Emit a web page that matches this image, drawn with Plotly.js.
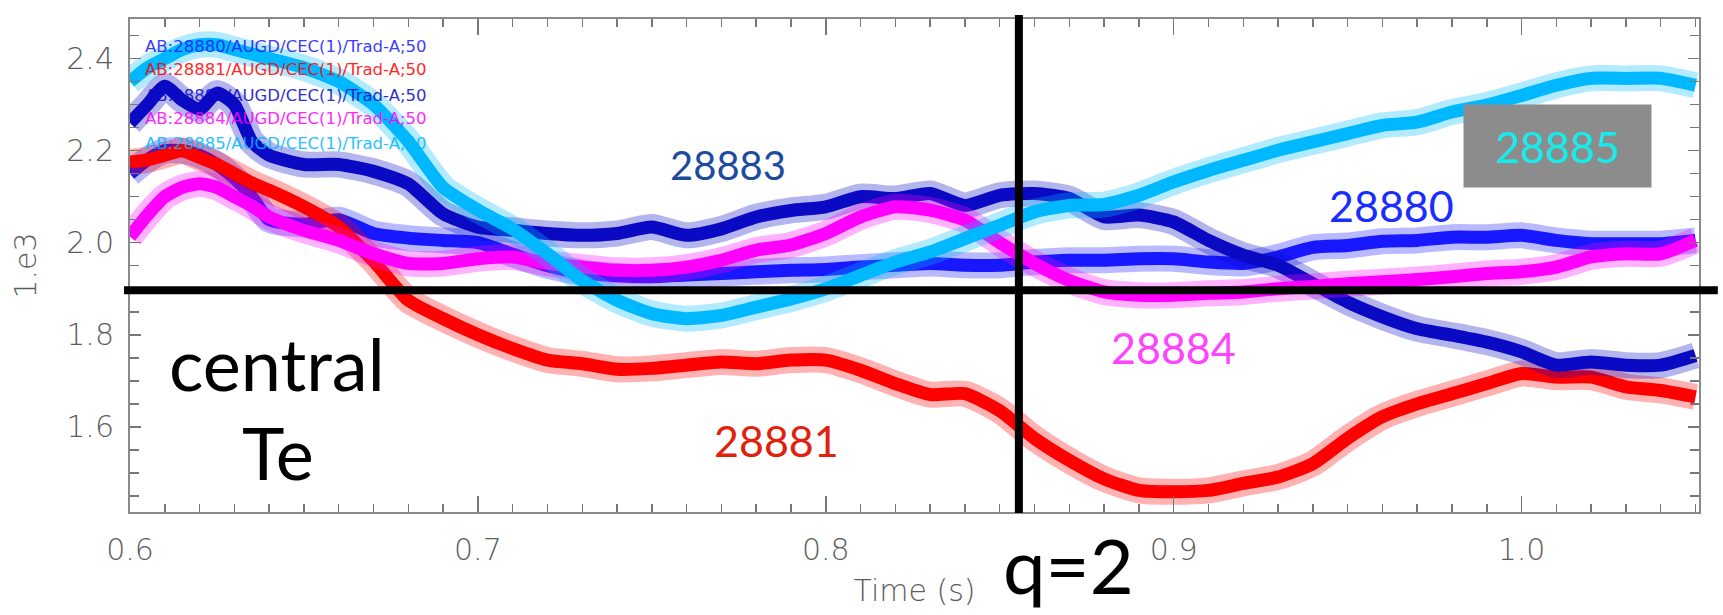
<!DOCTYPE html>
<html>
<head>
<meta charset="utf-8">
<script src="https://cdn.plot.ly/plotly-3.0.1.min.js"></script>
<style>
  html, body { margin: 0; padding: 0; background: #ffffff; }
  #chart { width: 1723px; height: 615px; }
</style>
</head>
<body>
<div id="chart"></div>
<script>
// Time axis (s)
const time = [0.600,0.605,0.610,0.615,0.620,0.625,0.630,0.635,0.640,0.650,0.660,0.670,0.680,0.690,
  0.700,0.710,0.720,0.730,0.740,0.750,0.760,0.770,0.780,0.790,0.800,0.810,0.820,0.830,0.840,0.850,
  0.860,0.870,0.880,0.890,0.900,0.910,0.920,0.930,0.940,0.950,0.960,0.970,0.980,0.990,1.000,1.010,
  1.020,1.030,1.040,1.050];

// Central Te (units of 1e3 eV)
const te28880 = [2.15,2.18,2.20,2.20,2.19,2.17,2.14,2.10,2.05,2.04,2.05,2.02,2.01,2.005,
  2.00,1.975,1.95,1.935,1.928,1.926,1.93,1.933,1.937,1.94,1.942,1.947,1.951,1.955,1.951,1.951,
  1.958,1.962,1.962,1.965,1.965,1.958,1.955,1.969,1.99,1.994,2.003,2.005,2.012,2.012,2.016,2.005,
  1.998,1.998,1.998,2.005];
const te28881 = [2.175,2.18,2.19,2.20,2.185,2.17,2.15,2.13,2.114,2.078,2.034,1.96,1.875,1.835,
  1.80,1.77,1.745,1.737,1.725,1.727,1.734,1.741,1.737,1.745,1.745,1.723,1.694,1.67,1.672,1.635,
  1.575,1.527,1.487,1.462,1.459,1.462,1.477,1.491,1.52,1.575,1.622,1.65,1.672,1.694,1.716,1.708,
  1.708,1.687,1.679,1.665];
const te28883 = [2.26,2.30,2.34,2.31,2.29,2.325,2.30,2.22,2.19,2.17,2.17,2.155,2.128,2.063,
  2.034,2.027,2.02,2.016,2.02,2.034,2.016,2.03,2.056,2.07,2.078,2.10,2.096,2.107,2.081,2.103,
  2.107,2.096,2.056,2.06,2.045,2.005,1.973,1.951,1.911,1.871,1.839,1.813,1.799,1.784,1.763,1.734,
  1.741,1.734,1.734,1.755];
const te28884 = [2.013,2.06,2.10,2.12,2.128,2.12,2.10,2.08,2.056,2.027,2.005,1.976,1.955,1.955,
  1.965,1.969,1.955,1.947,1.94,1.94,1.947,1.962,1.984,1.995,2.02,2.056,2.078,2.071,2.049,2.00,
  1.955,1.918,1.893,1.886,1.886,1.89,1.893,1.90,1.905,1.911,1.915,1.92,1.926,1.933,1.937,1.947,
  1.969,1.976,1.976,2.005];
const te28885 = [2.35,2.38,2.40,2.42,2.43,2.43,2.42,2.41,2.40,2.38,2.35,2.30,2.22,2.12,
  2.071,2.03,1.976,1.918,1.875,1.846,1.835,1.842,1.86,1.878,1.90,1.929,1.958,1.98,2.009,2.038,
  2.067,2.081,2.083,2.103,2.132,2.157,2.179,2.201,2.219,2.237,2.255,2.262,2.284,2.299,2.32,2.342,
  2.357,2.357,2.357,2.342];

const shots = ['28880','28881','28883','28884','28885'];
const shotColors = ['#1818ff','#ff0000','#0a0ac4','#ff00ff','#00b8ff'];
const shotValues = [te28880, te28881, te28883, te28884, te28885];
const legendLabels = shots.map(s => 'AB:' + s + '/AUGD/CEC(1)/Trad-A;50');

// Markers of interest
const q2Time = 0.8555;
const teLevel = 1.897;

const traces = [];
shots.forEach((s, i) => {
  traces.push({
    x: time, y: shotValues[i], type: 'scatter', mode: 'lines',
    line: {color: shotColors[i], width: 26, shape: 'spline', smoothing: 0.6},
    opacity: 0.3, hoverinfo: 'skip', showlegend: false
  });
  traces.push({
    x: time, y: shotValues[i], type: 'scatter', mode: 'lines', name: s,
    line: {color: shotColors[i], width: 13, shape: 'spline', smoothing: 0.6},
    showlegend: false
  });
});

const tickFont = {family: 'DejaVu Sans', size: 30, color: '#5c5c5c', weight: 300};
const labelFont = 'Lato, "Open Sans", sans-serif';

const annotations = [];
legendLabels.forEach((t, i) => {
  annotations.push({
    xref: 'paper', yref: 'paper', x: 0.0083, y: [0.945, 0.8966, 0.8458, 0.7972, 0.7465][i],
    xanchor: 'left', yanchor: 'middle', showarrow: false, text: t,
    font: {family: 'DejaVu Sans', size: 16.5, color: shotColors[i]}, opacity: 0.85
  });
});
annotations.push(
  {xref: 'paper', yref: 'paper', x: -0.0669, y: 0.5, textangle: -90, showarrow: false,
   text: '1.e3', font: tickFont, xanchor: 'center', yanchor: 'middle'},
  {xref: 'x', yref: 'y', x: 0.7718, y: 2.1686, showarrow: false, text: '28883',
   font: {family: labelFont, size: 40, color: '#1d4c9e'}},
  {xref: 'x', yref: 'y', x: 0.7859, y: 1.570, showarrow: false, text: '28881',
   font: {family: labelFont, size: 43, color: '#e3200c'}},
  {xref: 'x', yref: 'y', x: 0.9626, y: 2.0817, showarrow: false, text: '28880',
   font: {family: labelFont, size: 43, color: '#1a2dff'}},
  {xref: 'x', yref: 'y', x: 0.90, y: 1.772, showarrow: false, text: '28884',
   font: {family: labelFont, size: 43, color: '#ff44ff'}},
  {xref: 'x', yref: 'y', x: 1.0103, y: 2.211, showarrow: false, text: '28885',
   width: 187, height: 82, bgcolor: '#8c8c8c', borderpad: 0,
   font: {family: labelFont, size: 43, color: '#14ecec'}},
  {xref: 'x', yref: 'y', x: 0.6422, y: 1.7384, showarrow: false, text: 'central',
   font: {family: labelFont, size: 72, color: '#000000'}},
  {xref: 'x', yref: 'y', x: 0.6424, y: 1.545, showarrow: false, text: 'Te',
   font: {family: labelFont, size: 72, color: '#000000'}},
  {xref: 'x', yref: 'paper', x: 0.8698, y: -0.1075, xanchor: 'center', yanchor: 'middle',
   showarrow: false, text: 'q=2',
   font: {family: labelFont, size: 76, color: '#000000'}}
);

const layout = {
  width: 1723, height: 615,
  margin: {l: 130, r: 24, t: 19, b: 103},
  paper_bgcolor: '#ffffff', plot_bgcolor: '#ffffff',
  showlegend: false,
  xaxis: {
    range: [0.6, 1.051], tick0: 0.6, dtick: 0.1, tickformat: '.1f',
    ticks: 'inside', ticklen: 16, tickwidth: 1.5, tickcolor: '#777777',
    showline: true, linecolor: '#8a8a8a', linewidth: 2, mirror: 'ticks',
    showgrid: false, zeroline: false,
    minor: {dtick: 0.01, ticks: 'inside', ticklen: 8, tickwidth: 1.5, tickcolor: '#777777', showgrid: false},
    tickfont: tickFont, ticklabelstandoff: 10,
    title: {text: 'Time (s)', font: tickFont, standoff: 14}
  },
  yaxis: {
    range: [1.415, 2.486], tick0: 1.6, dtick: 0.2, tickformat: '.1f',
    ticks: 'inside', ticklen: 11, tickwidth: 1.5, tickcolor: '#777777',
    showline: true, linecolor: '#8a8a8a', linewidth: 2, mirror: 'ticks',
    showgrid: false, zeroline: false,
    minor: {dtick: 0.05, ticks: 'inside', ticklen: 9, tickwidth: 1.5, tickcolor: '#777777', showgrid: false},
    tickfont: tickFont, ticklabelstandoff: 8
  },
  shapes: [
    {type: 'line', xref: 'paper', yref: 'y', x0: -0.0038, x1: 1.012, y0: teLevel, y1: teLevel,
     line: {color: '#000000', width: 8}, layer: 'above'},
    {type: 'line', xref: 'x', yref: 'paper', x0: q2Time, x1: q2Time, y0: -0.002, y1: 1.008,
     line: {color: '#000000', width: 8}, layer: 'above'}
  ],
  annotations: annotations
};

Plotly.newPlot('chart', traces, layout, {displayModeBar: false, staticPlot: true});
</script>
</body>
</html>
